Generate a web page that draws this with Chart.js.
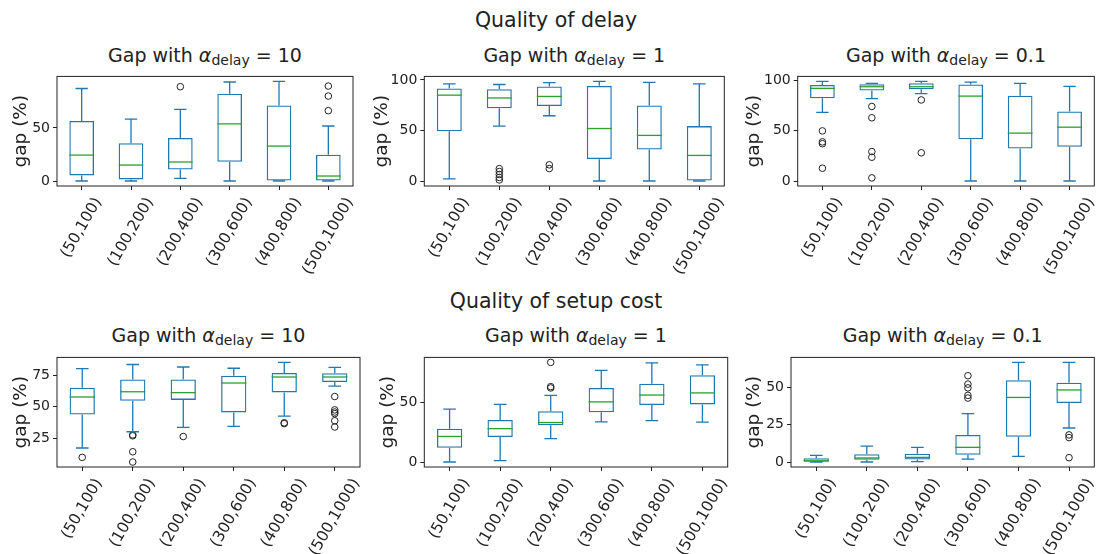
<!DOCTYPE html>
<html>
<head>
<meta charset="utf-8">
<script src="https://cdn.jsdelivr.net/npm/chart.js@4.4.0/dist/chart.umd.min.js"></script>
<style>
  html, body { margin: 0; padding: 0; background: #fff; }
  #fig { position: relative; width: 1099px; height: 554px; overflow: hidden;
         font-family: 'DejaVu Sans', sans-serif; color: #222; }
  .sup { position: absolute; left: 0; width: 1112px; text-align: center;
         font-size: 20.5px; line-height: 20px; white-space: nowrap; }
  .ttl { position: absolute; text-align: center; font-size: 19px; line-height: 19px; white-space: nowrap; }
  .ttl i { font-style: italic; }
  .ttl sub { font-size: 0.74em; vertical-align: -0.22em; line-height: 0; }
  canvas { position: absolute; }
</style>
</head>
<body>
<div id="fig"></div>
<script>
// Instance size classes on the x axis
const categories = ['(50,100)', '(100,200)', '(200,400)', '(300,600)', '(400,800)', '(500,1000)'];

// Box statistics per size class: [lower whisker, Q1, median, Q3, upper whisker]
// Quality of delay
const delay10Boxes = [
  [0, 5.3, 24.4, 56.5, 87.1],
  [0, 1.5, 15.0, 35.6, 58.2],
  [2.4, 10.9, 17.9, 40.6, 67.4],
  [0, 18.2, 53.8, 82.1, 93.2],
  [0, 0, 32.9, 71.2, 93.8],
  [0, 0, 4.7, 24.7, 51.8]
];
const delay10Fliers = [[], [], [88.8], [], [], [89.4, 80.0, 66.2]];

const delay1Boxes = [
  [2.2, 49.1, 84.9, 91.4, 96.0],
  [54.3, 71.9, 82.1, 90.7, 95.4],
  [64.5, 74.1, 83.6, 93.5, 97.2],
  [0, 21.6, 51.9, 94.1, 98.5],
  [0, 31.2, 45.1, 74.7, 97.5],
  [0, 0, 25.3, 54.3, 96.0]
];
const delay1Fliers = [[], [12.2, 9.4, 6.4, 3.5, 1.1], [16.0, 12.3], [], [], []];

const delay01Boxes = [
  [68.0, 82.0, 91.9, 95.3, 98.8],
  [81.7, 89.8, 93.5, 96.0, 96.9],
  [86.6, 91.0, 93.5, 96.9, 98.8],
  [0, 41.3, 84.2, 95.7, 98.1],
  [0, 32.3, 47.5, 84.5, 96.9],
  [0, 33.9, 53.4, 68.9, 93.8]
];
const delay01Fliers = [[49.7, 38.8, 37.0, 12.7], [73.9, 62.7, 29.2, 23.6, 3.1], [80.4, 28.0], [], [], []];

// Quality of setup cost
const setup10Boxes = [
  [17.0, 43.8, 57.8, 65.3, 80.5],
  [30.0, 54.8, 62.0, 71.8, 83.8],
  [33.5, 55.5, 61.3, 71.8, 81.8],
  [34.3, 45.5, 69.0, 74.8, 80.8],
  [42.5, 61.5, 73.8, 77.0, 85.5],
  [66.5, 69.8, 73.8, 76.8, 81.5]
];
const setup10Fliers = [[9.5], [27.5, 26.8, 14.0, 5.8], [26.2], [], [37.2, 36.5], [58.2, 47.5, 45.8, 44.5, 38.8, 33.8]];

const setup1Boxes = [
  [0, 12.1, 21.6, 28.2, 44.7],
  [1.1, 21.1, 28.2, 35.5, 48.7],
  [19.7, 31.1, 33.4, 42.9, 56.3],
  [33.9, 42.1, 50.8, 62.6, 77.4],
  [35.0, 48.2, 56.6, 66.1, 83.7],
  [33.7, 48.7, 58.4, 73.4, 82.1]
];
const setup1Fliers = [[], [], [84.2, 63.7, 62.6], [], [], []];

const setup01Boxes = [
  [0, 0.2, 0.8, 2.5, 4.4],
  [0, 1.5, 2.7, 5.2, 10.6],
  [0.2, 1.7, 3.1, 5.6, 9.8],
  [1.9, 4.8, 9.8, 18.1, 32.3],
  [3.8, 16.8, 43.1, 54.6, 66.5],
  [22.7, 39.4, 48.1, 52.9, 66.5]
];
const setup01Fliers = [[], [], [], [57.6, 52.0, 49.5, 44.5, 42.7], [], [18.1, 16.3, 2.9]];

// Y tick labels per panel
const delay10Ticks = [0, 50];
const delay1Ticks = [0, 50, 100];
const delay01Ticks = [0, 50, 100];
const setup10Ticks = [25, 50, 75];
const setup1Ticks = [0, 50];
const setup01Ticks = [0, 25, 50];

const alphaLabels = ['10', '1', '0.1'];
const suptitles = ['Quality of delay', 'Quality of setup cost'];

// ---- layout (plot-area frames in page pixels) ----
const FONT = "'DejaVu Sans', sans-serif";
const INK = '#222';
const BOX_BLUE = '#1f77b4';
const MEDIAN_GREEN = '#2ca02c';
const X_AXIS_H = 95;
const X_LABEL_SIZE = 15.5;
const Y_TITLE_SIZE = 18.5;

const panels = [
  { boxes: delay10Boxes, fliers: delay10Fliers, ticks: delay10Ticks, alpha: alphaLabels[0],
    frame: { left: 57, right: 353, top: 69.3, bottom: 186 }, ylabDist: 36 },
  { boxes: delay1Boxes, fliers: delay1Fliers, ticks: delay1Ticks, alpha: alphaLabels[1],
    frame: { left: 424.3, right: 724.3, top: 69.3, bottom: 186 }, ylabDist: 42.6 },
  { boxes: delay01Boxes, fliers: delay01Fliers, ticks: delay01Ticks, alpha: alphaLabels[2],
    frame: { left: 797.7, right: 1094.3, top: 69.3, bottom: 186 }, ylabDist: 44 },
  { boxes: setup10Boxes, fliers: setup10Fliers, ticks: setup10Ticks, alpha: alphaLabels[0],
    frame: { left: 57, right: 360, top: 350, bottom: 466.7 }, ylabDist: 36 },
  { boxes: setup1Boxes, fliers: setup1Fliers, ticks: setup1Ticks, alpha: alphaLabels[1],
    frame: { left: 424.3, right: 727.7, top: 350, bottom: 466.7 }, ylabDist: 36 },
  { boxes: setup01Boxes, fliers: setup01Fliers, ticks: setup01Ticks, alpha: alphaLabels[2],
    frame: { left: 791, right: 1094.3, top: 350, bottom: 466.7 }, ylabDist: 37 }
];
const supBaselines = [27.5, 308.5];
const titleBaselines = [62, 342];

// Whiskers, caps, medians, frame and rotated category labels
const boxPlotPlugin = {
  id: 'boxPlot',
  afterDatasetsDraw(chart, args, opts) {
    const { ctx, scales: { x, y } } = chart;
    const meta = chart.getDatasetMeta(0);
    ctx.save();
    ctx.lineWidth = 1.3;
    opts.boxes.forEach((b, i) => {
      const cx = x.getPixelForValue(i);
      const half = meta.data[i].width / 2;
      const capHalf = half / 2;
      const [lo, q1, med, q3, hi] = b.map(v => y.getPixelForValue(v));
      ctx.strokeStyle = BOX_BLUE;
      ctx.beginPath();
      ctx.moveTo(cx, q1); ctx.lineTo(cx, lo);
      ctx.moveTo(cx, q3); ctx.lineTo(cx, hi);
      ctx.moveTo(cx - capHalf, lo); ctx.lineTo(cx + capHalf, lo);
      ctx.moveTo(cx - capHalf, hi); ctx.lineTo(cx + capHalf, hi);
      ctx.stroke();
      ctx.strokeStyle = MEDIAN_GREEN;
      ctx.beginPath();
      ctx.moveTo(cx - half, med); ctx.lineTo(cx + half, med);
      ctx.stroke();
    });
    ctx.restore();
  },
  afterDraw(chart) {
    const { ctx, chartArea: ca, scales: { x } } = chart;
    ctx.save();
    ctx.strokeStyle = INK;
    ctx.lineWidth = 1;
    ctx.strokeRect(ca.left, ca.top, ca.right - ca.left, ca.bottom - ca.top);
    // category labels rotated 60 degrees, bounding box centred under each tick
    const ang = Math.PI / 3;
    const th = X_LABEL_SIZE * 1.17;
    ctx.font = X_LABEL_SIZE + 'px ' + FONT;
    ctx.fillStyle = INK;
    ctx.textAlign = 'center';
    ctx.textBaseline = 'middle';
    chart.data.labels.forEach((lab, i) => {
      const px = x.getPixelForValue(i);
      const w = ctx.measureText(lab).width;
      const bh = w * Math.sin(ang) + th * Math.cos(ang);
      const top = ca.bottom + 8.5;
      ctx.save();
      ctx.translate(px, top + bh / 2);
      ctx.rotate(-ang);
      ctx.fillText(lab, 0, 0);
      ctx.restore();
    });
    ctx.restore();
  }
};

const fig = document.getElementById('fig');

suptitles.forEach((t, r) => {
  const d = document.createElement('div');
  d.className = 'sup';
  d.style.top = (supBaselines[r] - 17.3) + 'px';
  d.textContent = t;
  fig.appendChild(d);
});

panels.forEach((p, idx) => {
  const f = p.frame;
  const row = idx < 3 ? 0 : 1;

  // subplot title
  const t = document.createElement('div');
  t.className = 'ttl';
  t.style.left = f.left + 'px';
  t.style.width = (f.right - f.left) + 'px';
  t.style.top = (titleBaselines[row] - 16.1) + 'px';
  t.innerHTML = 'Gap with <i>α</i><sub>delay</sub> = ' + p.alpha;
  fig.appendChild(t);

  // value range with 5% margins
  const all = p.boxes.flat().concat(p.fliers.flat());
  const lo = Math.min(...all), hi = Math.max(...all);
  const pad = (hi - lo) * 0.05;

  const yTitleHalf = Y_TITLE_SIZE * 1.2 / 2;
  const canvasLeft = Math.round(f.left - (p.ylabDist + yTitleHalf));
  const canvasTop = Math.floor(f.top - 4);
  const yw = f.left - canvasLeft;
  const padTop = f.top - canvasTop;
  const plotW = f.right - f.left;
  const W = Math.ceil(yw + plotW + 6);
  const H = Math.ceil(padTop + (f.bottom - f.top) + X_AXIS_H);

  const cv = document.createElement('canvas');
  cv.width = W; cv.height = H;
  cv.style.left = canvasLeft + 'px';
  cv.style.top = canvasTop + 'px';
  cv.style.width = W + 'px';
  cv.style.height = H + 'px';
  fig.appendChild(cv);

  const flierPoints = [];
  p.fliers.forEach((arr, i) => arr.forEach(v => flierPoints.push({ x: categories[i], y: v })));

  new Chart(cv, {
    type: 'bar',
    data: {
      labels: categories,
      datasets: [
        {
          type: 'bar',
          data: p.boxes.map(b => [b[1], b[3]]),
          backgroundColor: 'rgba(0,0,0,0)',
          borderColor: BOX_BLUE,
          borderWidth: 1.3,
          borderSkipped: false,
          barPercentage: 0.5,
          categoryPercentage: 1.0
        },
        {
          type: 'line',
          data: flierPoints,
          showLine: false,
          pointStyle: 'circle',
          pointRadius: 3.3,
          pointHoverRadius: 3.3,
          pointBorderWidth: 1,
          pointBorderColor: INK,
          pointBackgroundColor: 'rgba(0,0,0,0)'
        }
      ]
    },
    options: {
      responsive: false,
      animation: false,
      events: [],
      layout: { padding: { left: 0, top: padTop, right: W - yw - plotW, bottom: 0 } },
      plugins: {
        legend: { display: false },
        title: { display: false },
        tooltip: { enabled: false },
        boxPlot: { boxes: p.boxes }
      },
      scales: {
        x: {
          type: 'category',
          offset: true,
          grid: { offset: false, drawOnChartArea: false, drawTicks: true, tickLength: 4, color: INK, lineWidth: 1 },
          border: { display: false },
          ticks: { display: false },
          afterFit: s => { s.height = X_AXIS_H; }
        },
        y: {
          min: lo - pad,
          max: hi + pad,
          afterBuildTicks: s => { s.ticks = p.ticks.map(v => ({ value: v })); },
          afterFit: s => { s.width = yw; },
          grid: { drawOnChartArea: false, drawTicks: true, tickLength: 4, color: INK, lineWidth: 1 },
          border: { display: false },
          ticks: { font: { family: FONT, size: 14 }, color: INK, padding: 3 },
          title: { display: true, text: 'gap (%)', font: { family: FONT, size: Y_TITLE_SIZE }, color: INK, padding: { top: 0, bottom: 0 } }
        }
      }
    },
    plugins: [boxPlotPlugin]
  });
});
</script>
</body>
</html>
